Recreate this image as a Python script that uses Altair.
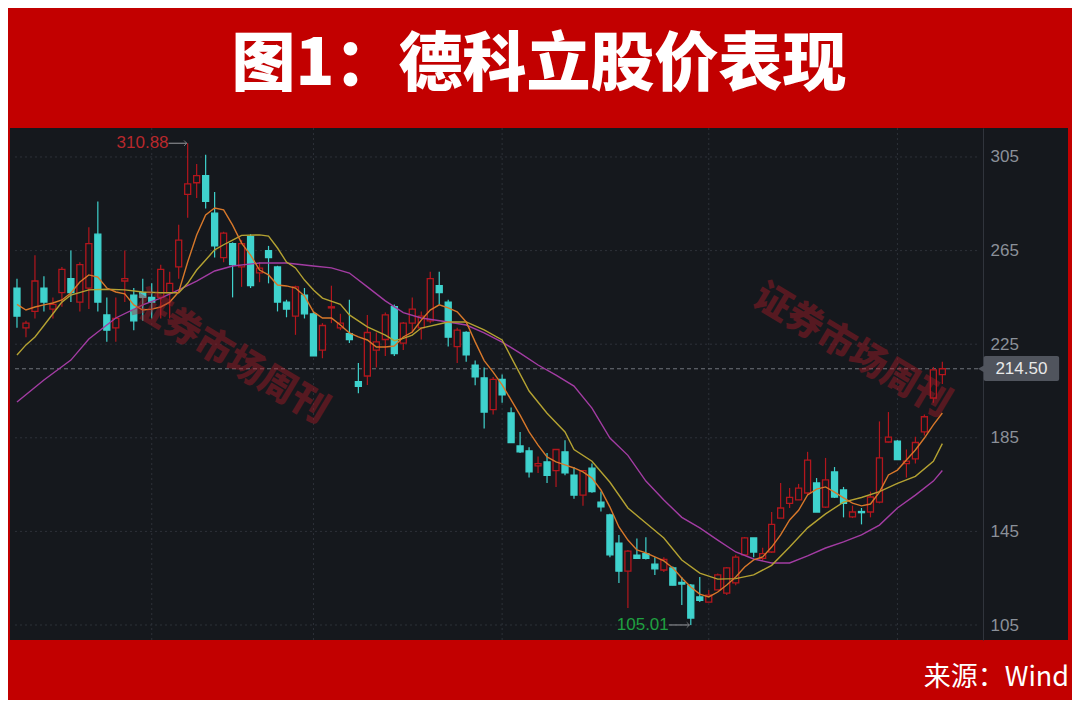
import altair as alt
import pandas as pd

# ---------------- data ----------------
opens = [249, 232, 239, 249, 240, 247, 253, 243, 249, 272,
         237.5, 232, 252, 246, 247, 245, 245, 247, 258, 289,
         294, 297, 281, 262, 268, 258, 271, 255.5, 265, 258,
         243, 237, 246, 238, 222.5, 240.5, 232, 229.5, 209, 211.4,
         222.5, 227, 241, 225.5, 234, 232, 235, 250, 243, 224,
         230, 216, 210.6, 197, 210, 195.6, 181.5, 179.4, 173, 174.7,
         171, 179, 169, 160.5, 172, 157.5, 152, 140, 128, 134.8,
         135.5, 131, 128.5, 129.4, 123.2, 122, 117, 114.8, 120, 118.6,
         123, 135, 142.2, 133.5, 136.2, 150.7, 157, 158.5, 161.4, 165.7,
         155.4, 170.4, 162.7, 151.2, 153.5, 153.3, 157.5, 183.2, 183.6, 174,
         176, 187.5, 202, 212]
highs = [253, 235, 263, 254, 245, 258, 265, 260, 275, 286,
         245, 245, 265, 249, 253, 251, 259, 256, 276, 310.88,
         302, 306, 290, 273, 268.5, 269.5, 272, 260, 267, 258.5,
         244, 250, 249, 239, 234, 250, 238, 244, 217, 237.5,
         230, 238.5, 242, 234.5, 245, 239, 256, 256, 244, 232,
         230.5, 218, 215, 211, 212, 198, 187.5, 181, 177, 178.5,
         180, 184, 172.5, 171, 174, 162, 152.5, 143.5, 137, 142,
         142.5, 134, 134, 130, 125.5, 122.5, 125.5, 120, 127, 129.8,
         135, 142.6, 142.2, 138, 153.3, 165.7, 163.5, 165.3, 179, 167.8,
         176.4, 172.5, 164, 156, 155, 162, 192, 196, 184, 180,
         185.5, 195, 215.3, 217.5]
lows = [232, 228, 236, 239, 236, 241, 243, 239, 240, 239,
        226, 226, 243, 231, 235, 236, 236, 236, 253, 279,
        287.5, 283, 262, 260, 245, 249.5, 249, 251.5, 251, 239,
        236.5, 229, 236, 220, 219, 234, 231, 225.5, 204, 207.6,
        215, 220, 220, 222.5, 230, 227, 234, 242, 224, 217,
        217.5, 207.5, 189, 195, 200, 183, 178.5, 168, 170, 165.7,
        164, 169, 159, 156, 161.5, 153.5, 134, 123, 112.3, 133.5,
        133, 126.4, 127.6, 122, 113.5, 105.01, 114.8, 114.8, 120, 117.8,
        122, 135, 134, 132.5, 135.8, 150.7, 155, 158.5, 160.5, 153.3,
        155, 159.3, 151, 150.7, 148, 151, 157, 183, 175.7, 168,
        174, 186, 200, 208]
closes = [237, 234, 252, 243, 242, 257, 247, 259, 268, 243,
          231, 236, 253, 235, 245, 243, 257, 251, 269.5, 293.5,
          297, 286, 267, 272.5, 259, 268, 250, 257.5, 262, 243,
          240, 249.5, 238, 220, 233, 241, 234, 227, 207, 230,
          226, 237.5, 221, 234, 240, 237, 253, 247, 228, 231,
          220.4, 211, 196, 210, 203.3, 183, 179, 170.4, 174, 169,
          180, 170, 160.5, 171, 162, 155.5, 135, 128, 136.6, 133.5,
          133.5, 129, 133, 122, 122.5, 108, 115.5, 117.8, 126.4, 129.4,
          134, 142.2, 136.2, 135.5, 148, 155, 159.5, 163.5, 175.5, 153.3,
          167, 159.7, 157, 153.3, 153, 159.7, 176.4, 185.3, 175.7, 175,
          183, 194, 214, 214.5]
day_index = list(range(len(closes)))

ma5_values = [242, 239.6, 240.9, 241.8, 242.6, 243.9, 246.9, 251.6, 254.6, 253.7,
              249, 247.3, 246.5, 241.8, 239.6, 240, 240.9, 243, 247.3, 260.1,
              271.7, 280.2, 283.2, 282.4, 275.9, 268.2, 263.1, 256.7, 254.6, 250.3,
              249.9, 249, 245.6, 238.8, 236.2, 236.2, 233.2, 229.8, 228.1, 226.8,
              223.8, 223.8, 224.2, 228.1, 230.2, 235.3, 239.6, 241.8, 240.5, 238.8,
              234.5, 226, 218, 213.1, 207.6, 201.2, 194.7, 187.5, 181.9, 176.8,
              174.7, 173.4, 172.1, 170.4, 167.8, 162.7, 155.4, 146.9, 141.3, 137.1,
              135.8, 134.1, 132.4, 129.4, 125.1, 121.2, 118.2, 117, 119.1, 122.1,
              125.5, 129.8, 132.8, 134.1, 138.3, 143.5, 149.9, 154, 160.6, 163.1,
              164, 161.8, 159.3, 157.1, 155.9, 156.7, 161.8, 169.1, 171.2, 175.5,
              179.8, 184.9, 190.5, 195.6]
ma10_days = [0, 1, 2, 3, 4, 5, 6, 8, 10, 12, 14, 16, 18, 19, 20, 21, 22, 23, 24, 25,
             27, 28, 29, 30, 31, 32, 33, 34, 36, 37, 39, 41, 42, 43, 44, 45, 48, 50, 52, 54,
             55, 57, 59, 61, 62, 64, 66, 68, 70, 72, 74, 76, 78, 80, 82, 84, 86, 88, 90, 92,
             94, 96, 98, 100, 102, 103]
ma10_values = [220.4, 224.7, 228.1, 233, 238, 243, 246, 248.2, 248.5, 248.2, 247.3, 247, 247, 251,
               256.7, 261, 265.3, 267.5, 269.5, 271.5, 271.7, 271.2, 266.1, 260.1, 257.6, 252.4,
               248.2, 244.7, 242, 237.5, 232.4, 228.9, 226.5, 227.5, 228.9, 231.9, 234.5, 234.5,
               231.1, 226.8, 219.5, 205, 195.5, 187.5, 180, 175, 166, 155, 148.6, 142.2, 132.8,
               127.2, 124.6, 124.8, 126.4, 130.5, 138.3, 146.5, 152.5, 157.5, 159.5, 162, 165.5,
               168.5, 175, 182.5]
ma20_days = [0, 3, 6, 8, 11, 14, 16, 18, 20, 22, 24, 27, 30, 33, 35, 37, 39, 41, 43, 45,
             48, 50, 52, 54, 56, 58, 60, 62, 64, 66, 68, 70, 72, 74, 76, 78, 80, 82, 84, 86,
             88, 90, 92, 94, 96, 98, 100, 102, 103]
ma20_values = [200.3, 209.7, 218.2, 227.2, 236.2, 241.8, 244.7, 248.2, 252, 256.3, 258.4, 259.7,
               259.7, 258.4, 257.6, 255.4, 249.5, 243.5, 238.5, 236.2, 234.5, 233.2, 229.8, 225.9,
               221.2, 216.1, 211.8, 207.1, 197.7, 184.9, 177.5, 166.5, 158.4, 151, 146.5, 141.3,
               136.2, 133.2, 131.5, 131.5, 134.5, 137.9, 140.5, 143.5, 147.7, 155, 160.5, 166.5, 171]

y_ticks = [105, 145, 185, 225, 265, 305]
month_breaks = [15, 33, 54, 77, 98]
last_price = [214.50]
peak_day, peak_value = [19], [310.88]
trough_day, trough_value = [75], [105.01]
watermark_text = ["证券市场周刊", "证券市场周刊"]
title_text = "图1：德科立股价表现"
source_text = ["来源：Wind"]

# ---------------- layout constants ----------------
BG_RED = "#c20000"
PANEL = "#15181d"
UP = "#b3161d"
DOWN = "#3fd2cd"
GRID = "#2d3139"
X_DOM = [-0.22, 116.43]
Y_DOM = [98.59, 317.39]
X_AXISLINE = 107.05

xs = alt.Scale(domain=X_DOM, nice=False, zero=False)
ys = alt.Scale(domain=Y_DOM, nice=False, zero=False)
yaxis = alt.Axis(orient="right", offset=-85, values=y_ticks, grid=False, ticks=False,
                 domain=True, domainColor="#30343c", labelColor="#8b9099",
                 labelFont="Liberation Sans", labelFontSize=17, labelPadding=7,
                 title=None)


def X(f):
    return alt.X(f, type="quantitative", scale=xs, axis=None)


def Y(f):
    return alt.Y(f, type="quantitative", scale=ys, axis=yaxis)


candles = pd.DataFrame({"i": day_index, "open": opens, "high": highs,
                        "low": lows, "close": closes})
candles["dir"] = ["up" if c >= o else "down" for o, c in zip(opens, closes)]
candles["b0"] = [min(o, c) for o, c in zip(opens, closes)]
candles["b1"] = [max(o, c) for o, c in zip(opens, closes)]

dir_stroke = alt.Scale(domain=["up", "down"], range=[UP, DOWN])
dir_fill = alt.Scale(domain=["up", "down"], range=[PANEL, DOWN])

grid_h = alt.Chart(pd.DataFrame({"v": y_ticks, "x0": X_DOM[0], "x1": X_AXISLINE})).mark_rule(
    color=GRID, strokeDash=[2, 3], strokeWidth=1).encode(y=Y("v"), x=X("x0"), x2="x1")
grid_v = alt.Chart(pd.DataFrame({"m": month_breaks})).mark_rule(
    color=GRID, strokeDash=[2, 3], strokeWidth=1).encode(x=X("m"))
last_line = alt.Chart(pd.DataFrame({"v": last_price, "x0": X_DOM[0], "x1": X_AXISLINE})).mark_rule(
    color="#70747c", strokeDash=[4, 3], strokeWidth=1).encode(y=Y("v"), x=X("x0"), x2="x1")

wicks = alt.Chart(candles).mark_rule(strokeWidth=1.2).encode(
    x=X("i"), y=Y("low"), y2="high",
    color=alt.Color("dir:N", scale=dir_stroke, legend=None))
bodies = alt.Chart(candles).mark_bar(size=6, strokeWidth=1.3).encode(
    x=X("i"), y=Y("b0"), y2="b1",
    fill=alt.Fill("dir:N", scale=dir_fill, legend=None),
    stroke=alt.Stroke("dir:N", scale=dir_stroke, legend=None))

ma20 = alt.Chart(pd.DataFrame({"i": ma20_days, "v": ma20_values})).mark_line(
    color="#a33ca3", strokeWidth=1.4).encode(x=X("i"), y=Y("v"))
ma10 = alt.Chart(pd.DataFrame({"i": ma10_days, "v": ma10_values})).mark_line(
    color="#b4a232", strokeWidth=1.4).encode(x=X("i"), y=Y("v"))
ma5 = alt.Chart(pd.DataFrame({"i": day_index, "v": ma5_values})).mark_line(
    color="#d8782a", strokeWidth=1.4).encode(x=X("i"), y=Y("v"))

wm = alt.Chart(pd.DataFrame({"i": [23.65, 92.9], "v": [219.3, 222.1], "t": watermark_text})).mark_text(
    font="Noto Sans CJK SC", fontSize=37, fontWeight=900, angle=31,
    color="#b01c28", opacity=0.42).encode(x=X("i"), y=Y("v"), text="t:N")

tag_box = alt.Chart(pd.DataFrame({"x0": [107.6], "x1": [116.0], "y0": [209.3], "y1": [220.0]})).mark_rect(
    color="#50545d", cornerRadius=2).encode(x=X("x0"), x2="x1", y=Y("y0"), y2="y1")
tag_notch = alt.Chart(pd.DataFrame({"i": [107.35], "v": last_price})).mark_point(
    shape="triangle-left", filled=True, size=60, color="#50545d", opacity=1).encode(x=X("i"), y=Y("v"))
tag_text = alt.Chart(pd.DataFrame({"i": [111.8], "v": last_price,
                                   "t": ["%.2f" % p for p in last_price]})).mark_text(
    font="Liberation Sans", fontSize=17, color="#e8e8e8").encode(x=X("i"), y=Y("v"), text="t:N")

peak_df = pd.DataFrame({"x0": [p - 2.13 for p in peak_day], "x1": [p - 0.1 for p in peak_day],
                        "v": peak_value, "t": ["%.2f" % v for v in peak_value]})
peak_text = alt.Chart(peak_df).mark_text(align="right", baseline="middle", font="Liberation Sans",
                                         fontSize=17, color="#b8282c").encode(x=X("x0"), y=Y("v"), text="t:N")
peak_arrow = alt.Chart(peak_df).mark_rule(color="#9a9ca0", strokeWidth=1).encode(
    x=X("x0"), x2="x1", y=Y("v"))
peak_head = alt.Chart(peak_df).mark_point(shape="M-1,-1L0,0L-1,1", size=30, filled=False,
                                          color="#9a9ca0", strokeWidth=1).encode(x=X("x1"), y=Y("v"))

trough_df = pd.DataFrame({"x0": [p - 2.45 for p in trough_day], "x1": [p - 0.15 for p in trough_day],
                          "v": trough_value, "t": ["%.2f" % v for v in trough_value]})
trough_text = alt.Chart(trough_df).mark_text(align="right", baseline="middle", font="Liberation Sans",
                                             fontSize=17, color="#1fa040").encode(x=X("x0"), y=Y("v"), text="t:N")
trough_arrow = alt.Chart(trough_df).mark_rule(color="#9a9ca0", strokeWidth=1).encode(
    x=X("x0"), x2="x1", y=Y("v"))
trough_head = alt.Chart(trough_df).mark_point(shape="M-1,-1L0,0L-1,1", size=30, filled=False,
                                              color="#9a9ca0", strokeWidth=1).encode(x=X("x1"), y=Y("v"))

source = alt.Chart(pd.DataFrame({"i": [117.1], "v": [82.35], "t": source_text})).mark_text(
    align="right", baseline="middle", font="Noto Sans CJK SC", fontSize=27, color="white").encode(
    x=X("i"), y=Y("v"), text="t:N")

chart = alt.layer(
    grid_h, grid_v, last_line, wicks, bodies, ma20, ma10, ma5, wm,
    tag_box, tag_notch, tag_text,
    peak_arrow, peak_head, peak_text, trough_arrow, trough_head, trough_text, source
).properties(
    width=1058, height=512,
    title=alt.TitleParams(text=title_text, font="Noto Sans CJK SC", fontSize=64, fontWeight=900,
                          color="white", anchor="middle", offset=30),
    background=BG_RED,
    padding={"left": 2, "top": 120, "right": 4, "bottom": 60},
    autosize=alt.AutoSizeParams(type="none"),
).configure_view(fill=PANEL, stroke=None)

chart.save("out.html", embed_options={"renderer": "svg", "actions": False})
